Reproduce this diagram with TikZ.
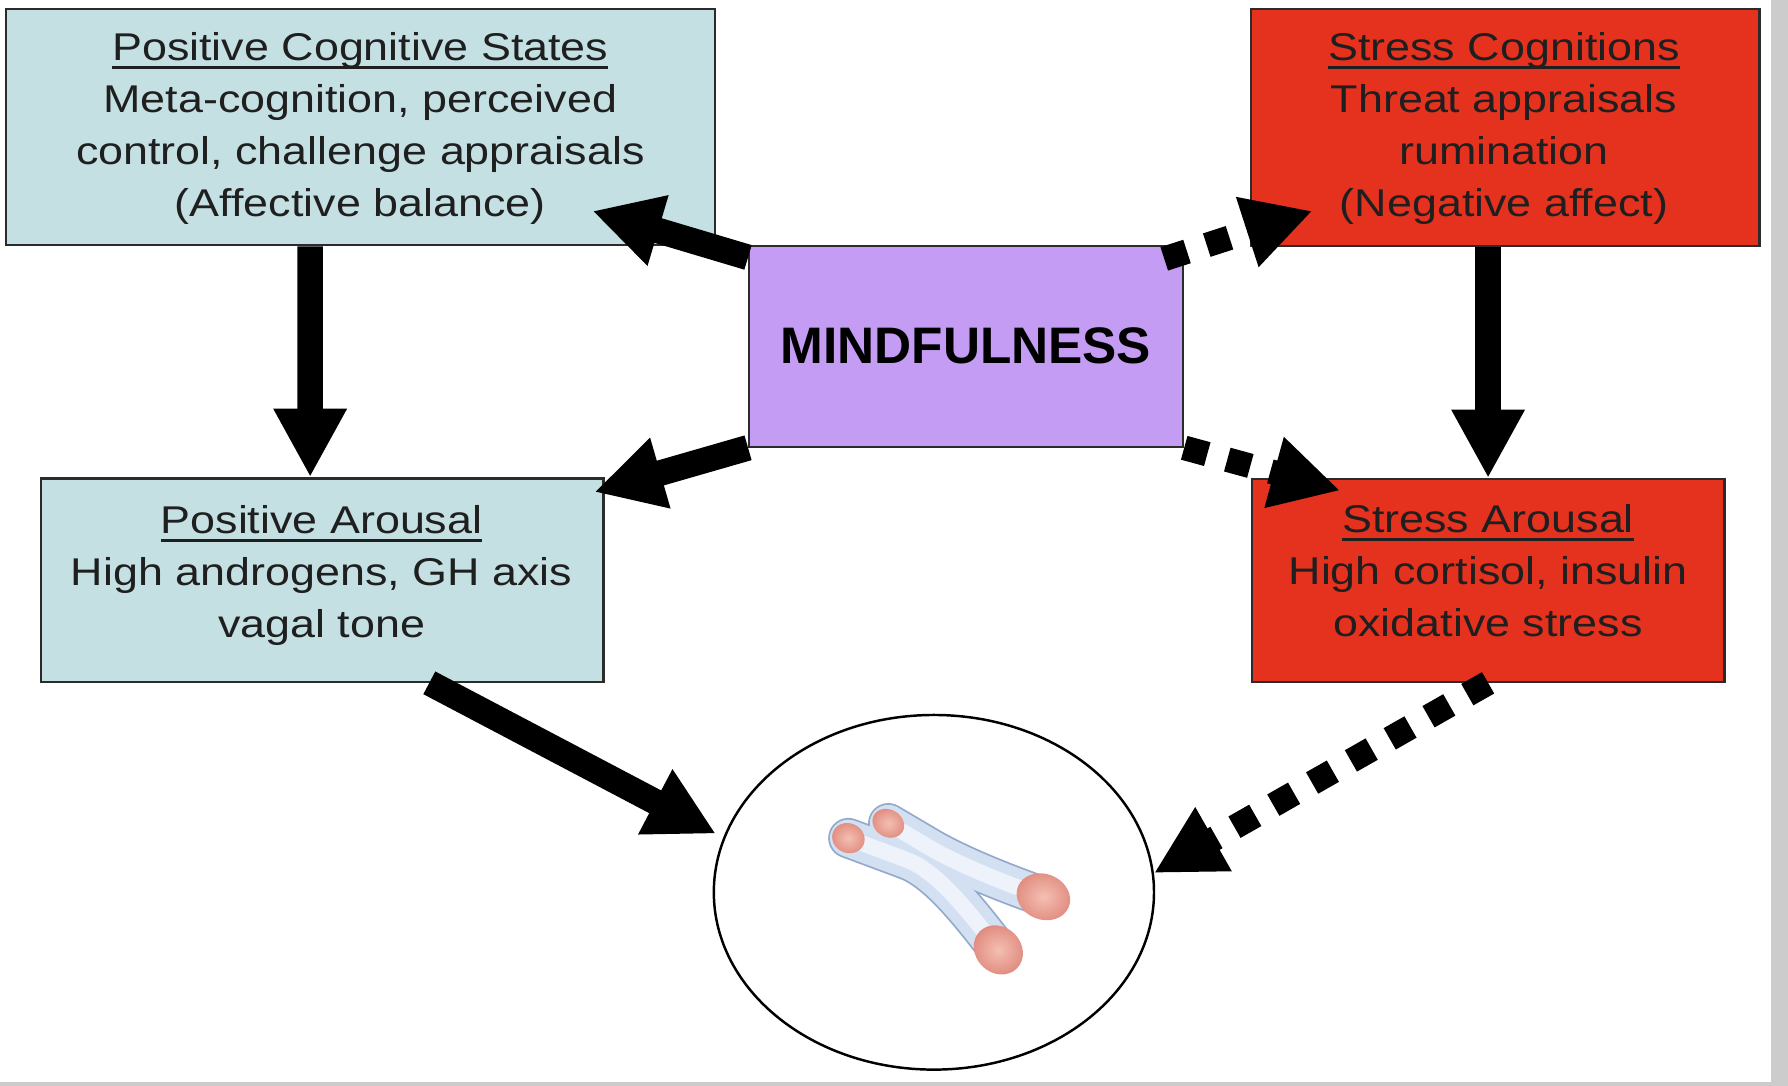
\documentclass[tikz,border=0pt]{standalone}
\usepackage{fontspec}
\setmainfont{Liberation Sans}[FakeStretch=1.16]
\newfontfamily\mindfont{Liberation Sans}
\usetikzlibrary{arrows.meta,shapes.geometric,fit,calc}
\definecolor{boxblue}{HTML}{C4E0E3}
\definecolor{boxred}{HTML}{E4321F}
\definecolor{boxpurple}{HTML}{C49CF4}
\definecolor{edgegray}{HTML}{2B2B2B}
\definecolor{stripgray}{HTML}{CCCCCC}
\definecolor{armedge}{HTML}{92A9CC}
\definecolor{armfill}{HTML}{D3E0F2}
\definecolor{armlight}{HTML}{EEF3FB}
\definecolor{pinkin}{HTML}{F4BFB2}
\definecolor{pinkout}{HTML}{E08A7E}
\newsavebox\ulbox
\newcommand{\ulin}[1]{\sbox\ulbox{#1}\rlap{\rule[-2.3pt]{\wd\ulbox}{0.8pt}}\usebox\ulbox}
\begin{document}
\begin{tikzpicture}[x=0.0114cm,y=-0.0114cm,
  box/.style={draw=edgegray, line width=0.65pt, inner sep=0pt},
  txt/.style={align=center, inner sep=0pt, anchor=north, font=\fontsize{11}{14.75}\selectfont, text=black!88},
  solidarrow/.style={line width=7.3pt, -{Triangle[length=19.5pt,width=19.5pt]}},
  dotarrow/.style={line width=7pt, dash pattern=on 6.8pt off 5.9pt, -{Triangle[length=19.5pt,width=19.5pt]}},
  armA/.style={line cap=round, line join=round},
  pinkend/.style={inner color=pinkin, outer color=pinkout}]
\fill[white] (0,0) rectangle (1568,952);
\useasboundingbox (0,0) rectangle (1568,952);
\fill[stripgray] (1553,0) rectangle (1568,952);
\fill[stripgray] (0,949) rectangle (1568,952);

% boxes
\node[box, fill=boxblue, fit={(5,8) (627,215)}] (pcs) {};
\node[box, fill=boxred, fit={(1097,8) (1543,215.7)}] (sc) {};
\node[box, fill=boxpurple, fit={(657,215.7) (1037.5,391.7)}] (mind) {};
\node[box, fill=boxblue, fit={(35.7,419.5) (529.3,597.8)}] (pa) {};
\node[box, fill=boxred, fit={(1097.7,420.3) (1512.3,597.8)}] (sa) {};
\node[draw, line width=0.7pt, ellipse, minimum width=4.40cm, minimum height=3.545cm, inner sep=0pt, fill=white] (circ) at (819,782.5) {};

% texts
\node[txt] (pcsT) at (316,28) {\ulin{Positive Cognitive States}\\Meta-cognition, perceived\\control, challenge appraisals\\(Affective balance)};
\node[txt] (scT) at (1319,28) {\ulin{Stress Cognitions}\\Threat appraisals\\rumination\\(Negative affect)};
\node[txt] (paT) at (282,443) {\ulin{Positive Arousal}\\High androgens, GH axis\\vagal tone};
\node[txt] (saT) at (1305,442) {\ulin{Stress Arousal}\\High cortisol, insulin\\oxidative stress};
\node[inner sep=0pt, font=\mindfont\bfseries\fontsize{14.6}{17}\selectfont] (mindT) at (847,303) {MINDFULNESS};

% connectors
\draw[solidarrow] ($(pcs.south west)+(268,0)$) -- ($(pa.north west)+(237.3,0)$);
\draw[solidarrow] (sa.north |- sc.south) -- (sa.north);
\draw[solidarrow] ($(mind.north west)+(0,11)$) -- ($(pcs.south east)+(-108.5,-31)$);
\draw[solidarrow] (mind.south west) -- ($(pa.north east)+(-9,13)$);
\draw[dotarrow] ($(mind.north east)+(-17.5,12.3)$) -- ($(sc.south west)+(55,-31.7)$);
\draw[dotarrow] (mind.south east) -- ($(sa.north west)+(78.6,10.9)$);
\draw[solidarrow] ($(pa.south west)+(341.8,0)$) -- ($(circ.165)+(-7,-2)$);
\draw[dotarrow] (sa.south) -- (circ.5);

% chromosome
\def\armR{(779,722) -- (818,745) .. controls (845,760) and (880,774) .. (915,786.4)}
\def\armL{(744,735) -- (795,754) .. controls (822,764) and (850,800) .. (875.5,833)}
\draw[armA, armedge, line width=11.5pt] \armR;
\draw[armA, armedge, line width=11.5pt] \armL;
\draw[armA, armfill, line width=10.5pt] \armR;
\draw[armA, armfill, line width=10.5pt] \armL;
\draw[armA, armlight, line width=4.5pt] \armR;
\draw[armA, armlight, line width=4.5pt] \armL;
\shade[pinkend, rotate around={-45:(875.5,833)}] (875.5,833) ellipse [x radius=23, y radius=20];
\shade[pinkend, rotate around={-22:(915,786.4)}] (915,786.4) ellipse [x radius=24, y radius=20];
\shade[pinkend, rotate around={-24:(744,735)}] (744,735) ellipse [x radius=14.5, y radius=13];
\shade[pinkend, rotate around={-30:(779,722)}] (779,722) ellipse [x radius=14.5, y radius=12];
\end{tikzpicture}
\end{document}
